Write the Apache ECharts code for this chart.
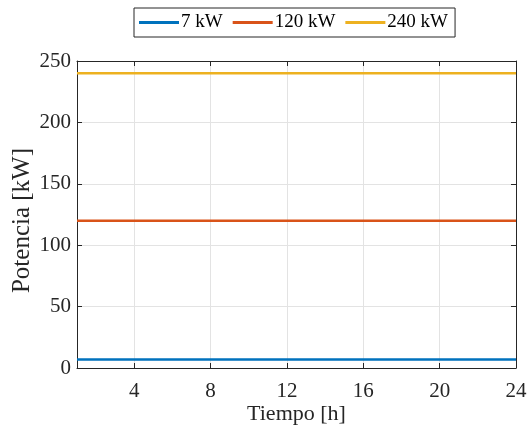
<!DOCTYPE html>
<html>
<head>
<meta charset="utf-8">
<script src="https://cdn.jsdelivr.net/npm/echarts@6/dist/echarts.min.js"></script>
<style>
  html, body { margin: 0; padding: 0; background: #fff; }
  #chart { width: 529px; height: 433px; }
</style>
</head>
<body>
<div id="chart"></div>
<script>
// Hours of the day
const hours = [1, 2, 3, 4, 5, 6, 7, 8, 9, 10, 11, 12, 13, 14, 15, 16, 17, 18, 19, 20, 21, 22, 23, 24];
// Charging power for each charger type [kW]
const power7 = [7, 7, 7, 7, 7, 7, 7, 7, 7, 7, 7, 7, 7, 7, 7, 7, 7, 7, 7, 7, 7, 7, 7, 7];
const power120 = [120, 120, 120, 120, 120, 120, 120, 120, 120, 120, 120, 120, 120, 120, 120, 120, 120, 120, 120, 120, 120, 120, 120, 120];
const power240 = [240, 240, 240, 240, 240, 240, 240, 240, 240, 240, 240, 240, 240, 240, 240, 240, 240, 240, 240, 240, 240, 240, 240, 240];
const seriesNames = ['7 kW', '120 kW', '240 kW'];
const xTicks = [4, 8, 12, 16, 20, 24];

const FONT = "'Liberation Serif', 'Times New Roman', serif";
const AXIS_COLOR = '#262626';
const colors = ['#0072BD', '#D95319', '#EDB120'];

const pairs = (ys) => hours.map((h, i) => [h, ys[i]]);

const chart = echarts.init(document.getElementById('chart'));
chart.setOption({
  animation: false,
  textStyle: { fontFamily: FONT },
  legend: {
    top: 8,
    left: 134,
    data: seriesNames,
    icon: 'rect',
    itemWidth: 40,
    itemHeight: 3,
    itemGap: 10,
    padding: [5, 7, 5, 5],
    borderColor: '#262626',
    borderWidth: 1,
    backgroundColor: '#fff',
    textStyle: { fontFamily: FONT, fontSize: 19, color: '#000', padding: [0, 0, 0, -3] }
  },
  grid: { left: 77, right: 13, top: 61, bottom: 65, containLabel: false, outerBoundsMode: 'none' },
  xAxis: [
    {
      type: 'value',
      min: 1,
      max: 24,
      name: 'Tiempo [h]',
      nameLocation: 'middle',
      nameGap: 35,
      nameMoveOverlap: false,
      nameTextStyle: { fontFamily: FONT, fontSize: 22, color: AXIS_COLOR },
      axisLine: { onZero: false, lineStyle: { color: AXIS_COLOR, width: 1 } },
      axisTick: { inside: true, length: 5, customValues: xTicks, lineStyle: { color: AXIS_COLOR } },
      axisLabel: { customValues: xTicks, fontFamily: FONT, fontSize: 21, color: AXIS_COLOR, margin: 13 },
      splitLine: { show: true, lineStyle: { color: '#e3e3e3', width: 1 } }
    },
    {
      type: 'value',
      position: 'top',
      min: 1,
      max: 24,
      axisLine: { onZero: false, lineStyle: { color: AXIS_COLOR, width: 1 } },
      axisTick: { inside: true, length: 5, customValues: xTicks, lineStyle: { color: AXIS_COLOR } },
      axisLabel: { show: false },
      splitLine: { show: false }
    }
  ],
  yAxis: [
    {
      type: 'value',
      min: 0,
      max: 250,
      interval: 50,
      name: 'Potencia [kW]',
      nameLocation: 'middle',
      nameGap: 42,
      nameMoveOverlap: false,
      nameTextStyle: { fontFamily: FONT, fontSize: 25, color: AXIS_COLOR, padding: [0, 12, 0, 0] },
      axisLine: { show: true, onZero: false, lineStyle: { color: AXIS_COLOR, width: 1 } },
      axisTick: { show: true, inside: true, length: 5, lineStyle: { color: AXIS_COLOR } },
      axisLabel: { fontFamily: FONT, fontSize: 21, color: AXIS_COLOR, margin: 6 },
      splitLine: { show: true, lineStyle: { color: '#e3e3e3', width: 1 } }
    },
    {
      type: 'value',
      position: 'right',
      min: 0,
      max: 250,
      interval: 50,
      axisLine: { show: true, onZero: false, lineStyle: { color: AXIS_COLOR, width: 1 } },
      axisTick: { show: true, inside: true, length: 5, lineStyle: { color: AXIS_COLOR } },
      axisLabel: { show: false },
      splitLine: { show: false }
    }
  ],
  series: [power7, power120, power240].map((ys, i) => ({
    name: seriesNames[i],
    type: 'line',
    data: pairs(ys),
    symbol: 'none',
    showSymbol: false,
    color: colors[i],
    lineStyle: { color: colors[i], width: 2.5 },
    z: 3
  }))
});
</script>
</body>
</html>
